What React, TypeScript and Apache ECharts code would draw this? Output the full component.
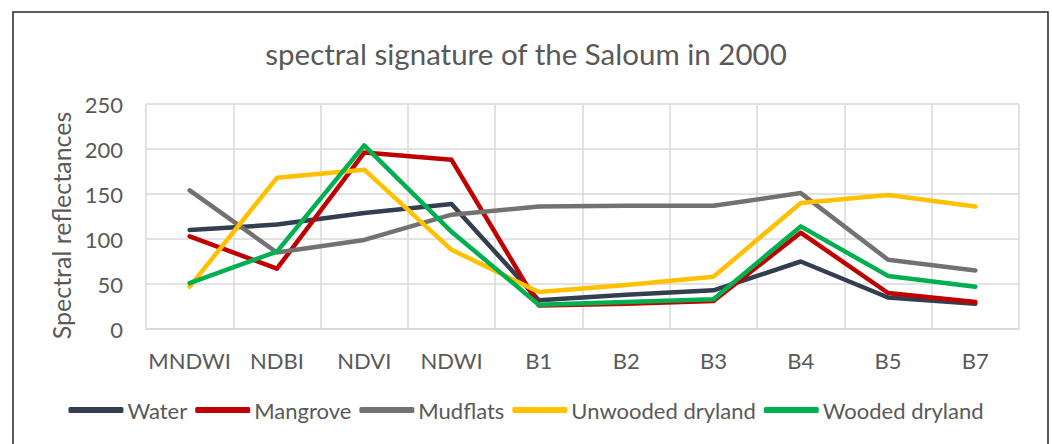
import React, { useEffect, useRef } from "react";
import * as echarts from "echarts";

const categories = ["MNDWI", "NDBI", "NDVI", "NDWI", "B1", "B2", "B3", "B4", "B5", "B7"];
const water = [110, 116, 129, 139, 32, 38, 43, 75, 35, 28];
const mangrove = [103, 67, 196, 188, 26, 28, 31, 107, 40, 30];
const mudflats = [154, 85, 99, 127, 136, 137, 137, 151, 77, 65];
const unwooded = [47, 168, 177, 88, 41, 49, 58, 140, 149, 136];
const wooded = [51, 86, 204, 108, 27, 30, 33, 114, 59, 47];
const yTicks = [0, 50, 100, 150, 200, 250];

const seriesDefs = [
  { name: "Water", data: water, color: "#333F50" },
  { name: "Mangrove", data: mangrove, color: "#C00000" },
  { name: "Mudflats", data: mudflats, color: "#767171" },
  { name: "Unwooded dryland", data: unwooded, color: "#FFC000" },
  { name: "Wooded dryland", data: wooded, color: "#00B050" },
];

const FONT = "Lato, 'Open Sans', sans-serif";
const TXT = "#595959";

export default function App() {
  const ref = useRef<HTMLDivElement>(null);
  useEffect(() => {
    if (!ref.current) return;
    const chart = echarts.init(ref.current, null, { renderer: "svg" });
    chart.setOption({
      animation: false,
      backgroundColor: "#fff",
      textStyle: { fontFamily: FONT },
      title: {
        text: "spectral signature of the Saloum in 2000",
        left: "center",
        top: 33,
        textStyle: { fontFamily: FONT, fontSize: 29.5, fontWeight: "normal", color: TXT },
      },
      graphic: [
        {
          type: "rect",
          shape: { x: 13, y: 12, width: 1035, height: 460 },
          style: { fill: "none", stroke: "#262626", lineWidth: 1.5 },
          silent: true,
        },
      ],
      legend: {
        bottom: 18,
        left: "center",
        icon: "roundRect",
        itemWidth: 55,
        itemHeight: 6,
        itemGap: 8,
        textStyle: { fontFamily: FONT, fontSize: 22, color: TXT, padding: [0, 0, 0, -1] },
        data: seriesDefs.map((s) => ({ name: s.name })),
      },
      grid: { left: 146, right: 33, top: 104, bottom: 115 },
      xAxis: {
        type: "category",
        data: categories,
        boundaryGap: true,
        axisLine: { show: true, lineStyle: { color: "#D9D9D9", width: 1.5 } },
        axisTick: { show: false },
        axisLabel: { color: TXT, fontFamily: FONT, fontSize: 22, margin: 20, interval: 0 },
        splitLine: { show: true, interval: 0, lineStyle: { color: "#D9D9D9", width: 1.5 } },
      },
      yAxis: {
        type: "value",
        min: yTicks[0],
        max: yTicks[yTicks.length - 1],
        interval: 50,
        name: "Spectral reflectances",
        nameLocation: "middle",
        nameGap: 70,
        nameTextStyle: { color: TXT, fontFamily: FONT, fontSize: 25, padding: [0, 18, 0, 0] },
        axisLine: { show: false },
        axisTick: { show: false },
        axisLabel: { color: TXT, fontFamily: FONT, fontSize: 22, margin: 23 },
        splitLine: { show: true, lineStyle: { color: "#D9D9D9", width: 1.5 } },
      },
      series: seriesDefs.map((s) => ({
        name: s.name,
        type: "line",
        data: s.data,
        symbol: "none",
        color: s.color,
        lineStyle: { color: s.color, width: 4.5, cap: "round", join: "round" },
      })),
    });
    return () => chart.dispose();
  }, []);
  return (
    <div
      ref={ref}
      style={{ position: "fixed", left: 0, top: 0, width: 1052, height: 444 }}
    />
  );
}
